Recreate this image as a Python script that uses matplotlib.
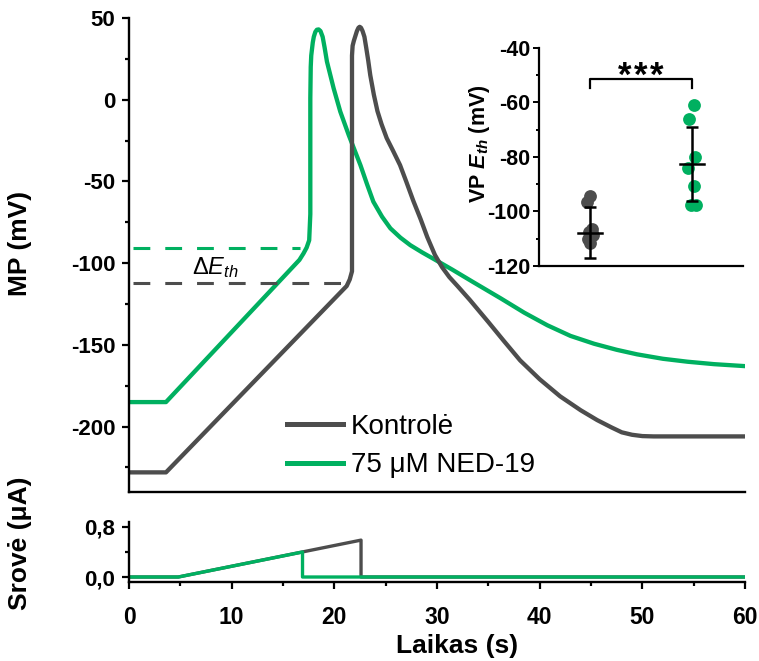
import matplotlib
matplotlib.use("Agg")
import matplotlib.pyplot as plt
from matplotlib.ticker import MultipleLocator, FixedLocator, FuncFormatter

plt.rcParams["font.family"] = ["Liberation Sans", "DejaVu Sans"]
plt.rcParams["font.weight"] = "bold"
plt.rcParams["axes.labelweight"] = "bold"
plt.rcParams["axes.unicode_minus"] = False
plt.rcParams["mathtext.fontset"] = "custom"
plt.rcParams["mathtext.rm"] = "Liberation Sans:weight=normal"
plt.rcParams["mathtext.it"] = "Liberation Sans:style=italic:weight=normal"
plt.rcParams["mathtext.bf"] = "Liberation Sans:weight=bold"
plt.rcParams["mathtext.bfit"] = "Liberation Sans:style=italic:weight=bold"

GRAY = "#4d4d4d"
GREEN = "#00b060"

# membrane potential, control (s, mV)
ctrl_t = [0, 3.6, 21.2, 21.5, 21.72, 21.72, 21.78, 21.9, 22.05, 22.2, 22.35,
          22.47, 22.6, 22.75, 22.93, 23.1, 23.3, 23.5, 23.85, 24.2, 24.6, 25.1,
          25.7, 26.4, 27.0, 27.7, 28.4, 29.05, 29.8, 30.5, 31.2, 32.0, 33.2,
          35.0, 36.5, 38.1, 40.0, 42.0, 44.0, 45.6, 47.0, 48.0, 49.0, 50.0,
          51.1, 60]
ctrl_v = [-228, -228, -114, -110, -105, 27, 33, 36, 39, 42, 44,
          44.6, 44, 42, 38.5, 32, 24, 15, 3, -7, -15, -23.5,
          -31, -40, -50, -62, -73, -84, -95, -102.5, -108.5, -114, -122.5,
          -136, -147.5, -159.5, -171, -181.5, -190, -196, -200.5, -203.5, -205, -205.8,
          -206, -206]

# membrane potential, 75 uM NED-19 (s, mV)
ned_t = [0, 3.6, 16.6, 17.0, 17.3, 17.55, 17.66, 17.66, 17.7, 17.75, 17.9,
         18.0, 18.15, 18.3, 18.47, 18.65, 18.86, 19.05, 19.28, 19.93, 20.58,
         21.4, 22.54, 23.19, 23.8, 24.65, 25.46, 26.44, 27.4, 28.55, 29.7,
         31.5, 33.5, 36.2, 38.5, 40.75, 43.0, 45.3, 47.5, 49.5, 52.0, 54.4,
         57.0, 60]
ned_v = [-185, -185, -98, -94, -90.5, -86, -70, 1, 20, 27, 35,
         38.5, 41.5, 42.8, 43, 42, 38.5, 32, 23.3, 7, -7.3,
         -21.6, -40, -51.8, -62.4, -71.6, -78.7, -84.4, -89, -93.4, -97.5,
         -104, -111.5, -121.5, -130.3, -138, -144.5, -149.3, -153, -155.8, -158.5, -160.3,
         -161.8, -163]

# stimulation current (s, uA)
ctrl_cur_t = [0, 4.8, 22.6, 22.6, 60]
ctrl_cur_i = [0, 0, 0.59, 0, 0]
ned_cur_t = [0, 4.8, 16.9, 16.9, 60]
ned_cur_i = [0, 0, 0.4, 0, 0]

# threshold levels (mV)
ctrl_eth = -112.4
ned_eth = -90.6
ctrl_eth_end = 21.1
ned_eth_end = 16.7

# inset: threshold per cell (mV)
labels = ["Kontrolė", "75 μM NED-19"]
ctrl_pts = [-94.5, -96.5, -106.5, -107.5, -108.5, -110, -111.5]
ned_pts = [-61, -66, -80, -84, -90.5, -97.5, -97.5]
means = [-107.8, -82.6]
sds = [9.4, 13.6]
ctrl_jit = [0.0, -0.05, 0.03, -0.02, 0.05, -0.03, 0.01]
ned_jit = [0.03, -0.05, 0.05, -0.08, 0.03, -0.02, 0.07]
sig_label = "*"
sig_offsets = [-0.31, 0.0, 0.31]

fig = plt.figure(figsize=(7.59, 6.61), dpi=100)
ax = fig.add_axes([0.170, 0.2557, 0.8115, 0.7171])
axc = fig.add_axes([0.170, 0.1195, 0.8115, 0.0908])
axi = fig.add_axes([0.7101, 0.5976, 0.2688, 0.3298])

# main panel
ax.plot(ned_t, ned_v, color=GREEN, lw=3.1, solid_joinstyle="round")
ax.plot(ctrl_t, ctrl_v, color=GRAY, lw=3.1, solid_joinstyle="round")
ax.plot([0.4, ned_eth_end], [ned_eth, ned_eth], color=GREEN, lw=2.2,
        dashes=(5.5, 4.9))
ax.plot([0.4, ctrl_eth_end], [ctrl_eth, ctrl_eth], color=GRAY, lw=2.2,
        dashes=(5.5, 4.9))
ax.text(6.1, -106.5, r"$\Delta E_{th}$", fontsize=17, ha="left", va="baseline")

h1, = ax.plot([], [], color=GRAY, lw=3.6)
h2, = ax.plot([], [], color=GREEN, lw=3.6)
ax.legend([h1, h2], labels, loc="upper left", bbox_to_anchor=(0.257, 0.165),
          frameon=False, borderpad=0, borderaxespad=0, handlelength=2.0,
          handletextpad=0.3, labelspacing=0.45,
          prop={"size": 20, "weight": "normal"})

ax.set_xlim(0, 60)
ax.set_ylim(-240, 50)
ax.yaxis.set_major_locator(MultipleLocator(50))
ax.yaxis.set_minor_locator(MultipleLocator(25))
ax.set_xticks([])
for s in ["top", "right"]:
    ax.spines[s].set_visible(False)
ax.set_ylabel("MP (mV)", fontsize=19)
ax.yaxis.set_label_coords(-0.157, 0.525)

# current panel
axc.plot(ctrl_cur_t, ctrl_cur_i, color=GRAY, lw=2.4)
axc.plot(ned_cur_t, ned_cur_i, color=GREEN, lw=2.4)
axc.set_xlim(0, 60)
axc.set_ylim(-0.08, 0.88)
axc.yaxis.set_major_locator(FixedLocator([0.0, 0.8]))
axc.yaxis.set_minor_locator(FixedLocator([0.4]))
axc.yaxis.set_major_formatter(FuncFormatter(lambda v, p: f"{v:.1f}".replace(".", ",")))
axc.xaxis.set_major_locator(MultipleLocator(10))
axc.xaxis.set_minor_locator(MultipleLocator(5))
for s in ["top", "right"]:
    axc.spines[s].set_visible(False)
axc.set_xlabel("Laikas (s)", fontsize=19)
axc.xaxis.set_label_coords(0.533, -0.87)
axc.set_ylabel("Srovė (μA)", fontsize=19)
axc.yaxis.set_label_coords(-0.157, 0.64)

for a in (ax, axc):
    for s in ["left", "bottom"]:
        a.spines[s].set_linewidth(1.7)
    a.tick_params(which="major", direction="out", length=5, width=1.6,
                  labelsize=16, pad=5)
    a.tick_params(which="minor", direction="out", length=3, width=1.6)
axc.tick_params(axis="x", which="major", pad=12, labelsize=16.5)

# inset
axi.patch.set_alpha(0)
axi.scatter([1 + j for j in ctrl_jit], ctrl_pts, s=85, color=GRAY,
            zorder=2, linewidths=0)
axi.scatter([3 + j for j in ned_jit], ned_pts, s=85, color=GREEN,
            zorder=2, linewidths=0)
axi.errorbar([1, 3], means, yerr=sds, fmt="none", ecolor="black",
             elinewidth=1.8, capsize=4.3, capthick=1.8, zorder=3)
for x0, m in zip([1, 3], means):
    axi.plot([x0 - 0.24, x0 + 0.24], [m, m], color="black", lw=1.8, zorder=3)
axi.plot([1, 1, 3, 3], [-54.7, -51.4, -51.4, -54.7], color="black", lw=1.6)
for dx in sig_offsets:
    axi.text(2 + dx, -53.8, sig_label, fontsize=25, ha="center", va="baseline")
axi.set_xlim(0, 4)
axi.set_ylim(-120, -40)
axi.set_xticks([])
axi.yaxis.set_major_locator(MultipleLocator(20))
axi.yaxis.set_minor_locator(MultipleLocator(10))
for s in ["top", "right"]:
    axi.spines[s].set_visible(False)
for s in ["left", "bottom"]:
    axi.spines[s].set_linewidth(1.6)
axi.tick_params(which="major", direction="out", length=4, width=1.4,
                labelsize=15.5, pad=2)
axi.tick_params(which="minor", direction="out", length=2.5, width=1.4)
axi.set_ylabel(r"VP $\mathbfit{E}_{\mathbfit{th}}$ (mV)", fontsize=15.5)
axi.yaxis.set_label_coords(-0.23, 0.56)

fig.savefig("out.png", dpi=100)
